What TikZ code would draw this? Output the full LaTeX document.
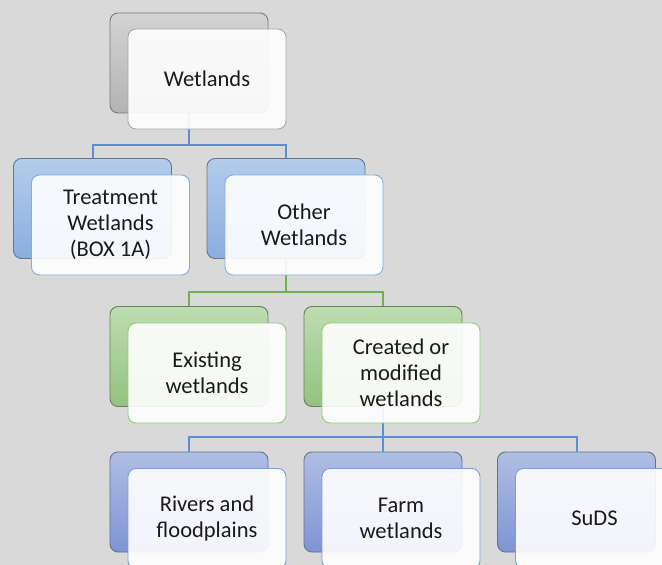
\documentclass[tikz,border=0pt]{standalone}
\usepackage{fontspec}
\setmainfont{Carlito}
\begin{document}
\begin{tikzpicture}[x=1pt,y=-1pt,
  back/.style={rounded corners=8pt,minimum width=158pt,minimum height=100pt,inner sep=0pt,line width=0.9pt},
  backgray/.style={back,draw=bgrayline,top color=bgraytop,bottom color=bgraybot},
  backblue/.style={back,draw=bblueline,top color=bbluetop,bottom color=bbluebot},
  backgreen/.style={back,draw=bgreenline,top color=bgreentop,bottom color=bgreenbot},
  backperi/.style={back,draw=bperiline,top color=bperitop,bottom color=bperibot},
  front/.style={rounded corners=8pt,minimum width=158pt,minimum height=100pt,inner sep=2pt,line width=0.9pt,
    fill=white,fill opacity=0.9,text opacity=1,draw opacity=1,align=center,text=txt,
    font=\fontsize{22.5}{26}\selectfont},
  frontgray/.style={front,draw=fgrayline},
  frontblue/.style={front,draw=fblueline},
  frontgreen/.style={front,draw=fgreenline},
  frontperi/.style={front,draw=fperiline},
  linkblue/.style={draw=linkb,line width=2pt},
  linkgreen/.style={draw=linkg,line width=2pt}]
\definecolor{bg}{HTML}{D9D9D9}
\definecolor{txt}{HTML}{1A1A1A}
\definecolor{bgraytop}{HTML}{D3D3D3}
\definecolor{bgraybot}{HTML}{B3B3B3}
\definecolor{bgrayline}{HTML}{7A7A7A}
\definecolor{fgrayline}{HTML}{A8A8A8}
\definecolor{bbluetop}{HTML}{B4CCEA}
\definecolor{bbluebot}{HTML}{8AAEE0}
\definecolor{bblueline}{HTML}{68778A}
\definecolor{fblueline}{HTML}{7EAEE0}
\definecolor{bgreentop}{HTML}{BEDCB1}
\definecolor{bgreenbot}{HTML}{92C37E}
\definecolor{bgreenline}{HTML}{68805E}
\definecolor{fgreenline}{HTML}{8FCB7A}
\definecolor{bperitop}{HTML}{AFBEE4}
\definecolor{bperibot}{HTML}{7E94D4}
\definecolor{bperiline}{HTML}{6A7088}
\definecolor{fperiline}{HTML}{7E9BDB}
\definecolor{linkb}{HTML}{5B8FD3}
\definecolor{linkg}{HTML}{72B04E}

\useasboundingbox (0,0) rectangle (662,565);
\clip (0,0) rectangle (662,565);
\fill[bg] (0,0) rectangle (662,565);

% back plates
\node[backgray]  (w0)  at (189,63)    {};
\node[backblue]  (tw0) at (92.5,208.5) {};
\node[backblue]  (ow0) at (286,208.5) {};
\node[backgreen] (ex0) at (189,356.5) {};
\node[backgreen] (cm0) at (383,356.5) {};
\node[backperi]  (rf0) at (189,502)   {};
\node[backperi]  (fw0) at (383,502)   {};
\node[backperi]  (sd0) at (576.5,502) {};

% bus lines
\coordinate (bus1) at (0,145);
\coordinate (bus2) at (0,291.5);
\coordinate (bus3) at (0,437);

\draw[linkblue] (w0.south) -- (w0.south |- bus1) -| (tw0.north);
\draw[linkblue] (w0.south |- bus1) -| (ow0.north);
\draw[linkgreen] (ow0.south) -- (ow0.south |- bus2) -| (ex0.north);
\draw[linkgreen] (ow0.south |- bus2) -| (cm0.north);
\draw[linkblue] (cm0.south) -- (cm0.south |- bus3) -| (rf0.north);
\draw[linkblue] (cm0.south |- bus3) -- (fw0.north);
\draw[linkblue] (cm0.south |- bus3) -| (sd0.north);

% front cards
\node[frontgray]  (w)  at (207,79)    {Wetlands};
\node[frontblue]  (tw) at (110.5,225)   {Treatment\\Wetlands\\(BOX 1A)};
\node[frontblue]  (ow) at (304,225)     {Other\\Wetlands};
\node[frontgreen] (ex) at (207,373)     {Existing\\wetlands};
\node[frontgreen] (cm) at (401,373)     {Created or\\modified\\wetlands};
\node[frontperi]  (rf) at (207,518.5)   {Rivers and\\floodplains};
\node[frontperi]  (fw) at (401,518.5)   {Farm\\wetlands};
\node[frontperi]  (sd) at (594.5,518.5) {SuDS};
\end{tikzpicture}
\end{document}
